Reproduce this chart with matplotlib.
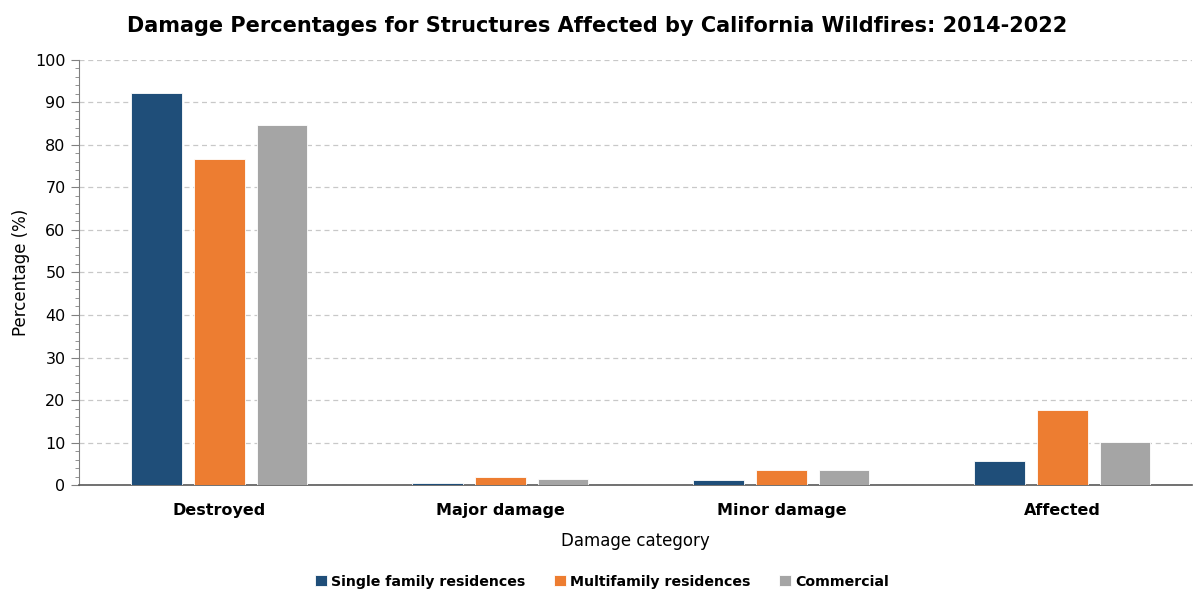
import numpy as np
import matplotlib.pyplot as plt
from matplotlib.ticker import MultipleLocator

categories = ["Destroyed", "Major damage", "Minor damage", "Affected"]
series_names = ["Single family residences", "Multifamily residences", "Commercial"]
single_family = [92.3, 0.5, 1.3, 5.6]
multifamily = [76.8, 1.9, 3.6, 17.6]
commercial = [84.6, 1.4, 3.6, 10.1]
colors = ["#1F4E79", "#ED7D31", "#A5A5A5"]

plt.rcParams['font.family'] = ['DejaVu Sans']

fig = plt.figure(figsize=(11.94, 5.93), dpi=100)
ax = fig.add_axes([0.066, 0.182, 0.932, 0.717])

x = np.arange(len(categories))
w = 0.18
step = 0.223
for i, (vals, name) in enumerate(zip([single_family, multifamily, commercial], series_names)):
    ax.bar(x + (i - 1) * step, vals, width=w, color=colors[i], edgecolor="white",
           linewidth=0.6, label=name, zorder=3)

ax.set_xlim(-0.5, len(categories) - 0.54)
ax.set_ylim(0, 100)
ax.yaxis.set_major_locator(MultipleLocator(10))
ax.yaxis.set_minor_locator(MultipleLocator(2))
ax.grid(axis="y", which="major", linestyle=(0, (4, 3)), color="#C8C8C8", linewidth=0.9, zorder=0)

for s in ["top", "right"]:
    ax.spines[s].set_visible(False)
ax.spines["left"].set_color("#808080")
ax.spines["bottom"].set_color("#595959")
ax.spines["bottom"].set_linewidth(1.2)

ax.tick_params(axis="y", which="major", length=6, color="#808080", labelsize=11.5)
ax.tick_params(axis="y", which="minor", length=3, color="#808080")
ax.tick_params(axis="x", length=0, pad=13)
ax.set_xticks(x)
ax.set_xticklabels(categories, fontsize=11.5, fontweight="bold")

ax.set_ylabel("Percentage (%)", fontsize=12)
ax.set_xlabel("Damage category", fontsize=12, labelpad=10)

fig.text(0.5, 0.956, "Damage Percentages for Structures Affected by California Wildfires: 2014-2022",
         fontsize=15, fontweight="bold", ha="center", va="center")

leg = fig.legend(loc="lower center", bbox_to_anchor=(0.504, -0.014), ncol=3, frameon=False,
                 prop={"weight": "bold", "size": 10.2}, handlelength=0.85, handleheight=0.85,
                 handletextpad=0.3, columnspacing=2.0)

fig.savefig("out.png", dpi=100)
